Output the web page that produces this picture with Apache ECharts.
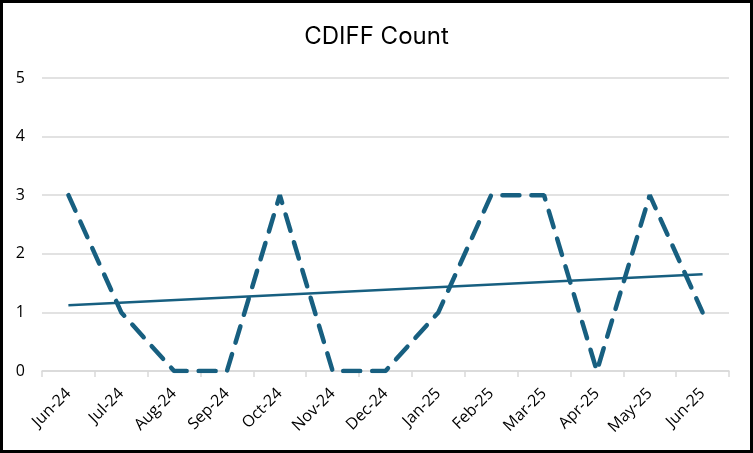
<!DOCTYPE html>
<html>
<head>
<meta charset="utf-8">
<script src="https://cdn.jsdelivr.net/npm/echarts@6/dist/echarts.min.js"></script>
<style>
html,body{margin:0;padding:0;background:#fff;}
#wrap{position:relative;width:753px;height:453px;}
#chart{position:absolute;left:0;top:0;width:753px;height:453px;}
#frame{position:absolute;left:0;top:0;width:753px;height:453px;box-sizing:border-box;border:3px solid #000;pointer-events:none;}
</style>
</head>
<body>
<div id="wrap"><div id="chart"></div><div id="frame"></div></div>
<script>
const categories = ['Jun-24','Jul-24','Aug-24','Sep-24','Oct-24','Nov-24','Dec-24','Jan-25','Feb-25','Mar-25','Apr-25','May-25','Jun-25'];
const counts = [3,1,0,0,3,0,0,1,3,3,0,3,1];
const trendStart = 1.12;
const trendEnd = 1.65;
const yTicks = [0,1,2,3,4,5];

const trend = categories.map((c,i)=> i===0 ? trendStart : (i===categories.length-1 ? trendEnd : null));
const color = '#175f80';

const chart = echarts.init(document.getElementById('chart'));
chart.setOption({
  animation:false,
  title:{text:'CDIFF Count',left:'center',top:20,textStyle:{fontFamily:'Inter',fontWeight:'normal',fontSize:24,color:'#000'}},
  grid:{left:42,right:24,top:78,bottom:82,containLabel:false},
  xAxis:{type:'category',data:categories,boundaryGap:true,
    axisLine:{lineStyle:{color:'#d9d9d9',width:1.5}},
    axisTick:{show:true,alignWithLabel:false,length:6,lineStyle:{color:'#d9d9d9',width:1.5}},
    axisLabel:{rotate:45,fontFamily:'Open Sans',fontSize:16,color:'#000',margin:20,interval:0}},
  yAxis:{type:'value',min:yTicks[0],max:yTicks[yTicks.length-1],interval:1,
    axisLine:{show:false},axisTick:{show:false},
    splitLine:{lineStyle:{color:'#d9d9d9',width:1.5}},
    axisLabel:{fontFamily:'Open Sans',fontSize:16,color:'#000',margin:17}},
  series:[
    {type:'line',data:counts,symbol:'none',
     lineStyle:{color:color,width:4.5,type:[17,12],cap:'round'}},
    {type:'line',data:trend,connectNulls:true,symbol:'none',
     lineStyle:{color:color,width:2.5}}
  ]
});
</script>
</body>
</html>
